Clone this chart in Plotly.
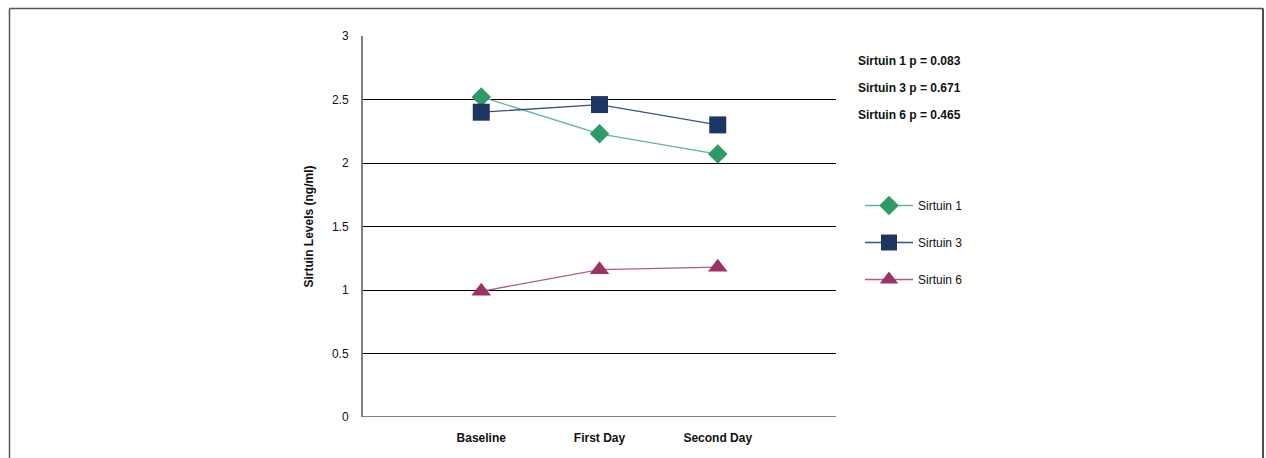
import plotly.graph_objects as go

categories = ["Baseline", "First Day", "Second Day"]
sirtuin1 = [2.52, 2.23, 2.07]
sirtuin3 = [2.40, 2.46, 2.30]
sirtuin6 = [0.99, 1.16, 1.18]
pvalues = ["Sirtuin 1 p = 0.083", "Sirtuin 3 p = 0.671", "Sirtuin 6 p = 0.465"]
ytick_vals = [0, 0.5, 1, 1.5, 2, 2.5, 3]
ytick_text = ["0", "0.5", "1", "1.5", "2", "2.5", "3"]

W, H = 1266, 458
L, R, T, B = 363, 836, 36, 417
pw, ph = R - L, B - T

def px(x):
    return (x - L) / pw

def py(y):
    return (B - y) / ph

FONT = "Liberation Sans, Arial"

fig = go.Figure()
series = [
    ("Sirtuin 1", sirtuin1, "#2e9a67", "#5fb98c", "diamond", 15),
    ("Sirtuin 3", sirtuin3, "#1d3563", "#3c5282", "square", 17),
    ("Sirtuin 6", sirtuin6, "#9b3366", "#b45a85", "triangle-up", 17),
]
for name, vals, mc, lc, sym, sz in series:
    fig.add_trace(go.Scatter(
        x=list(range(len(categories))), y=vals, name=name, mode="lines+markers",
        line=dict(color=lc, width=1.3),
        marker=dict(symbol=sym, size=sz, color=mc, line=dict(width=0)),
        legendgroup=name,
    ))

for i, t in enumerate(pvalues):
    fig.add_annotation(
        text="<b>" + t + "</b>", xref="paper", yref="paper",
        x=px(856), y=py(61 + 27 * i), xanchor="left", yanchor="middle",
        showarrow=False, font=dict(size=12, color="#111111", family=FONT),
    )

# frame
frame = dict(color="#555555", width=1.5)
fig.add_shape(type="line", xref="paper", yref="paper", x0=px(9.5), x1=px(9.5), y0=py(8.5), y1=py(470), line=frame)
fig.add_shape(type="line", xref="paper", yref="paper", x0=px(9.5), x1=px(1263), y0=py(8.5), y1=py(8.5), line=frame)
fig.add_shape(type="line", xref="paper", yref="paper", x0=px(1263), x1=px(1263), y0=py(8.5), y1=py(470), line=dict(color="#111111", width=1.5))

fig.update_layout(
    width=W, height=H,
    margin=dict(l=L, r=W - R, t=T, b=H - B, autoexpand=False),
    paper_bgcolor="white", plot_bgcolor="white",
    font=dict(family=FONT, size=12, color="#111111"),
    showlegend=True,
    legend=dict(x=px(860), y=py(191), xanchor="left", yanchor="top",
                tracegroupgap=18, itemwidth=48, font=dict(size=12, family=FONT),
                bgcolor="rgba(0,0,0,0)"),
    xaxis=dict(range=[-1, 3], showgrid=False, zeroline=False,
               tickvals=list(range(len(categories))), ticktext=["<b>%s</b>" % c for c in categories],
               showline=False, ticks="", ticklabelstandoff=12, tickfont=dict(size=12, family=FONT)),
    yaxis=dict(range=[0, 3], tickvals=ytick_vals, ticktext=ytick_text, showgrid=True, gridcolor="#000000", gridwidth=1,
               zeroline=False, showline=True, linecolor="#808080", linewidth=2, ticks="",
               ticklabelstandoff=10,
               title=dict(text="<b>Sirtuin Levels (ng/ml)</b>", standoff=16, font=dict(size=12, family=FONT)),
               tickfont=dict(size=12, family=FONT)),
)
fig.add_shape(type="line", xref="paper", yref="y", x0=0, x1=1, y0=0, y1=0, line=dict(color="#000000", width=1.2), layer="above")

fig.write_html("out.html",
               config={"displayModeBar": False},
               post_script="document.body.style.margin='0';document.body.style.overflow='hidden';")
